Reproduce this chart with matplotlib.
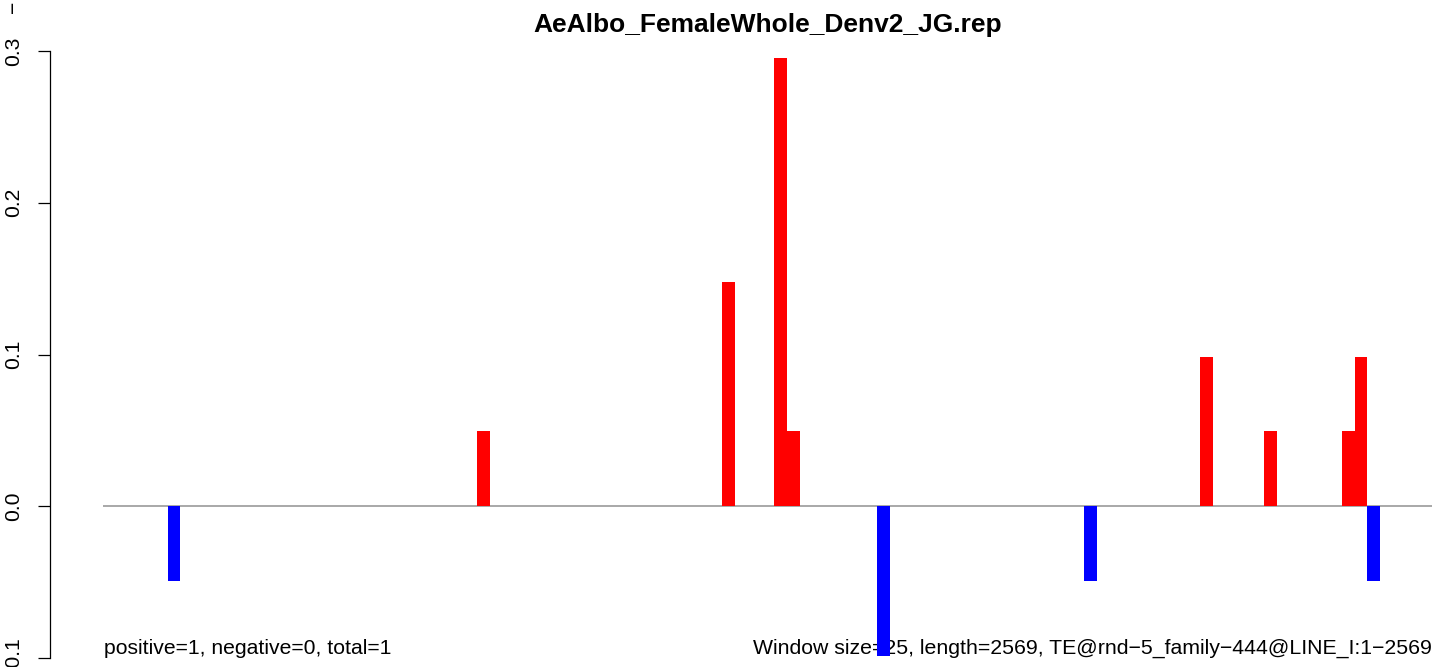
import matplotlib.pyplot as plt
import numpy as np

plt.rcParams['font.family'] = ['Liberation Sans', 'DejaVu Sans']

title = "AeAlbo_FemaleWhole_Denv2_JG.rep"
n_windows = 103  # length 2569 / window 25

# red (positive) windows and their heights
pos_windows = [29, 48, 52, 53, 85, 90, 96, 97]
pos_values = [0.0493, 0.148, 0.2955, 0.0493, 0.0986, 0.0493, 0.0493, 0.0986]

# blue (negative) windows
neg_windows = [5, 60, 76, 98]
neg_values = [-0.0493, -0.0986, -0.0493, -0.0493]

y_ticks = [-0.1, 0.0, 0.1, 0.2, 0.3]

left_note = "positive=1, negative=0, total=1"
right_note = "Window size=25, length=2569, TE@rnd\u22125_family\u2212444@LINE_I:1\u22122569"

W, H = 1449, 667
PT = 72 / 100  # pixels -> points
fig = plt.figure(figsize=(W / 100, H / 100), dpi=100)
# plot region in pixels: x 103..1432, y 51..658
ax = fig.add_axes([103 / W, 1 - 658 / H, (1432 - 103) / W, (658 - 51) / H])

ax.axhline(0, color='#999999', linewidth=1.2, zorder=1)
ax.bar(pos_windows, pos_values, width=1, align='edge', color='red', linewidth=0, zorder=3)
ax.bar(neg_windows, neg_values, width=1, align='edge', color='blue', linewidth=0, zorder=3)

ax.set_xlim(0, n_windows)
ax.set_ylim(-0.1, 0.3)

for s in ['top', 'right', 'bottom']:
    ax.spines[s].set_visible(False)
ax.spines['left'].set_position(('outward', 53 * PT))
ax.spines['left'].set_bounds(-0.1, 0.3)
ax.spines['left'].set_linewidth(0.9)
ax.set_xticks([])
ax.set_yticks(y_ticks)
ax.set_yticklabels([f"{v:.1f}".replace('-', '\u2212') for v in y_ticks],
                   rotation=90, va='center', ha='right')
ax.tick_params(axis='y', length=12 * PT, width=0.9, labelsize=15.2, pad=15 * PT)
ax.patch.set_alpha(0)

ax.set_title(title, fontsize=19, fontweight='bold', pad=14)

ax.text(0.08, -0.1, left_note, fontsize=15.2, ha='left', va='bottom', zorder=2)
ax.text(n_windows, -0.1, right_note, fontsize=15.3, ha='right', va='bottom', zorder=2)

fig.text(13 / W, 1 - 7 / H, "\u2212", rotation=90, fontsize=15.2, ha='center', va='center')

fig.savefig("out.png", dpi=100)
